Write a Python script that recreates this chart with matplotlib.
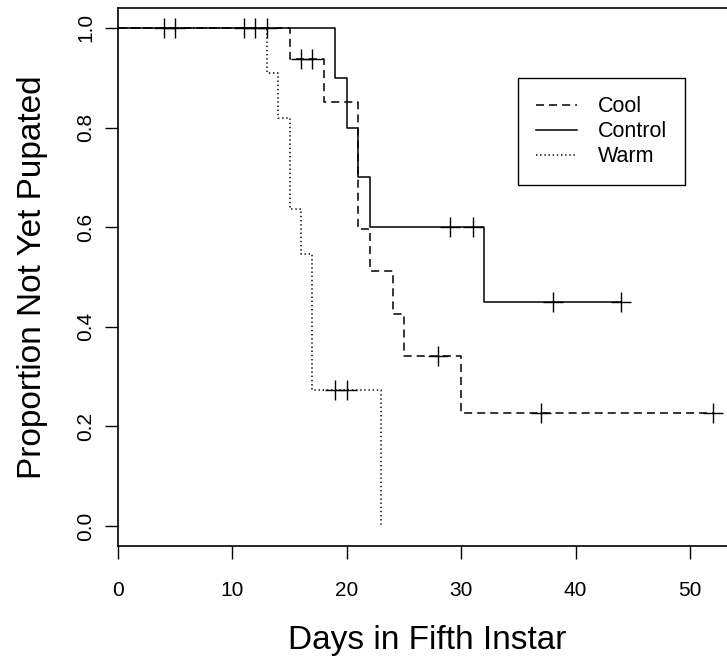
import numpy as np
import matplotlib
matplotlib.use("Agg")
import matplotlib.pyplot as plt
from matplotlib import rcParams

rcParams['font.family'] = ['Liberation Sans', 'DejaVu Sans']
rcParams['lines.scale_dashes'] = False

# Kaplan-Meier curves: day of each drop and survival after it, plus censored days
groups = ['Cool', 'Control', 'Warm']

cool_days = [15, 18, 21, 22, 24, 25, 30]
cool_surv = [0.9375, 0.8523, 0.5966, 0.5114, 0.4261, 0.3409, 0.2273]
cool_cens = [4, 5, 11, 12, 13, 16, 17, 28, 37, 52]

control_days = [19, 20, 21, 22, 32]
control_surv = [0.9, 0.8, 0.7, 0.6, 0.45]
control_cens = [29, 31, 38, 44]

warm_days = [13, 14, 15, 16, 17, 23]
warm_surv = [0.9091, 0.8182, 0.6364, 0.5455, 0.2727, 0.0]
warm_cens = [19, 20]

x_ticks = [0, 10, 20, 30, 40, 50]
y_ticks = [0.0, 0.2, 0.4, 0.6, 0.8, 1.0]

styles = {
    'Cool': (0, (5.8, 3.6)),
    'Control': '-',
    'Warm': (0, (1.0, 2.0)),
}


# step path of a survival curve, ending at the last observed day
def km_path(days, surv, cens):
    xs = [0] + list(days)
    ys = [1.0] + list(surv)
    end = max(list(days) + list(cens))
    return np.array(xs + [end]), np.array(ys + [ys[-1]])


# survival value at censored days, for the + marks
def cens_values(days, surv, cens):
    xs = np.array([0] + list(days))
    ys = np.array([1.0] + list(surv))
    idx = np.searchsorted(xs, cens, side='right') - 1
    return ys[idx]


fig = plt.figure(figsize=(7.27, 6.59), dpi=100)
ax = fig.add_axes([118 / 727, 113 / 659, (736.7 - 118) / 727, 538 / 659])

data = {
    'Cool': (cool_days, cool_surv, cool_cens),
    'Control': (control_days, control_surv, control_cens),
    'Warm': (warm_days, warm_surv, warm_cens),
}

for g in groups:
    days, surv, cens = data[g]
    px, py = km_path(days, surv, cens)
    ax.step(px, py, where='post', color='black', lw=1.1,
            linestyle=styles[g], label=g)
    ax.plot(cens, cens_values(days, surv, cens), linestyle='none',
            marker='+', markersize=14, markeredgewidth=1.0, color='black')

ax.set_xlim(0, 54.08)
ax.set_ylim(-0.04, 1.04)
ax.set_xticks(x_ticks)
ax.set_yticks(y_ticks)
ax.set_xticklabels([str(t) for t in x_ticks])
ax.set_yticklabels(['%.1f' % t for t in y_ticks], rotation=90, va='center')
ax.tick_params(direction='out', length=9.4, width=1, labelsize=15, colors='black')
ax.tick_params(axis='x', pad=16)
ax.tick_params(axis='y', pad=7)
for s in ax.spines.values():
    s.set_linewidth(1.2)

ax.set_xlabel('Days in Fifth Instar', fontsize=24, labelpad=18)
ax.set_ylabel('Proportion Not Yet Pupated', fontsize=24, labelpad=20)

leg = ax.legend(loc='upper left', bbox_to_anchor=(518 / 727, 1 - 78 / 659),
                bbox_transform=fig.transFigure, borderaxespad=0,
                fontsize=15.5, handlelength=1.9, handletextpad=0.95,
                borderpad=0.85, labelspacing=0.18, fancybox=False)
leg.get_frame().set_edgecolor('black')
leg.get_frame().set_linewidth(1.0)
leg.get_frame().set_alpha(None)

fig.savefig('out.png', dpi=100)
